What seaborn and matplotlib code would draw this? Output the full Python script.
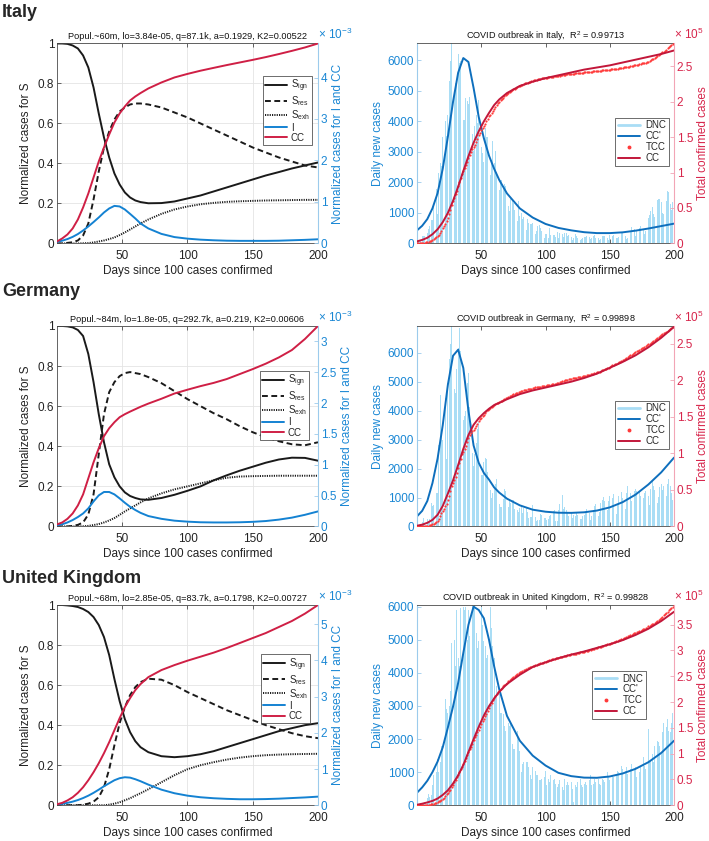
import numpy as np
import pandas as pd
import matplotlib
matplotlib.use('Agg')
import matplotlib.pyplot as plt
from matplotlib.lines import Line2D
from matplotlib.ticker import FuncFormatter, MultipleLocator
import seaborn as sns

sns.set_theme(style='white')
plt.rcParams['font.family'] = ['Liberation Sans', 'DejaVu Sans']
plt.rcParams['mathtext.fontset'] = 'custom'
plt.rcParams['mathtext.rm'] = 'Liberation Sans'
plt.rcParams['mathtext.it'] = 'Liberation Sans:italic'
plt.rcParams['mathtext.bf'] = 'Liberation Sans:bold'

# ---------------- data ----------------
COUNTRIES = ['Italy', 'Germany', 'United Kingdom']
LEFT_TITLES = ['Popul.~60m, lo=3.84e-05, q=87.1k, a=0.1929, K2=0.00522',
               'Popul.~84m, lo=1.8e-05, q=292.7k, a=0.219, K2=0.00606',
               'Popul.~68m, lo=2.85e-05, q=83.7k, a=0.1798, K2=0.00727']
R2_VALUES = ['0.99713', '0.99898', '0.99828']
X_TICKS = [50, 100, 150, 200]

GRID_DAYS = [0, 4, 8, 12, 16, 20, 24, 28, 32, 36, 40, 44, 48, 52, 56, 60, 64,
             70, 80, 90, 100, 110, 120, 130, 140, 150, 160, 170, 180, 190, 200]

# Italy, model (left panel). I and CC in units of 1e-3
IT_S_IGN = [1.0, 1.0, 0.998, 0.99, 0.975, 0.94, 0.88, 0.78, 0.65, 0.53, 0.43, 0.35, 0.295, 0.255, 0.23, 0.215, 0.207,
            0.201, 0.202, 0.21, 0.225, 0.24, 0.26, 0.28, 0.30, 0.32, 0.34, 0.357, 0.375, 0.39, 0.405]
IT_S_RES = [0.0, 0.0, 0.003, 0.006, 0.015, 0.04, 0.1, 0.22, 0.36, 0.48, 0.56, 0.62, 0.66, 0.68, 0.695, 0.70, 0.70,
            0.695, 0.68, 0.655, 0.63, 0.60, 0.57, 0.54, 0.51, 0.48, 0.455, 0.43, 0.41, 0.39, 0.38]
IT_S_EXH = [0.0, 0.0, 0.0, 0.0, 0.0, 0.001, 0.002, 0.005, 0.01, 0.015, 0.022, 0.03, 0.042, 0.055, 0.07, 0.085, 0.1,
            0.12, 0.148, 0.17, 0.185, 0.196, 0.203, 0.208, 0.211, 0.213, 0.215, 0.216, 0.217, 0.218, 0.218]
IT_I = [0.039, 0.067, 0.106, 0.159, 0.227, 0.313, 0.41, 0.516, 0.627, 0.747, 0.844, 0.906, 0.892, 0.819, 0.713, 0.603,
        0.482, 0.362, 0.231, 0.154, 0.116, 0.092, 0.077, 0.067, 0.063, 0.063, 0.063, 0.067, 0.077, 0.087, 0.101]
IT_CC = [0.048, 0.121, 0.217, 0.362, 0.578, 0.868, 1.205, 1.591, 1.976, 2.314, 2.627, 2.916, 3.133, 3.302, 3.446,
         3.543, 3.625, 3.736, 3.88, 4.001, 4.087, 4.164, 4.232, 4.299, 4.362, 4.425, 4.492, 4.565, 4.642, 4.724, 4.82]

# Germany
DE_S_IGN = [1.0, 1.0, 0.998, 0.993, 0.98, 0.95, 0.86, 0.72, 0.56, 0.42, 0.31, 0.245, 0.2, 0.17, 0.152, 0.142, 0.135,
            0.133, 0.142, 0.158, 0.178, 0.2, 0.23, 0.255, 0.278, 0.298, 0.318, 0.334, 0.343, 0.342, 0.328]
DE_S_RES = [0.0, 0.0, 0.0, 0.003, 0.008, 0.02, 0.06, 0.16, 0.36, 0.56, 0.67, 0.72, 0.75, 0.765, 0.77, 0.765, 0.76,
            0.745, 0.715, 0.675, 0.635, 0.60, 0.565, 0.535, 0.50, 0.47, 0.445, 0.425, 0.41, 0.405, 0.42]
DE_S_EXH = [0.0, 0.0, 0.0, 0.0, 0.0, 0.001, 0.003, 0.007, 0.012, 0.02, 0.03, 0.042, 0.058, 0.075, 0.09, 0.105, 0.12,
            0.14, 0.165, 0.185, 0.2, 0.215, 0.23, 0.243, 0.249, 0.251, 0.252, 0.253, 0.253, 0.253, 0.253]
DE_I = [0.02, 0.036, 0.065, 0.104, 0.153, 0.211, 0.293, 0.406, 0.504, 0.559, 0.559, 0.52, 0.455, 0.384, 0.319, 0.267,
        0.221, 0.169, 0.124, 0.094, 0.078, 0.068, 0.065, 0.065, 0.068, 0.075, 0.088, 0.111, 0.143, 0.189, 0.244]
DE_CC = [0.033, 0.065, 0.124, 0.211, 0.341, 0.52, 0.78, 1.04, 1.268, 1.463, 1.593, 1.69, 1.771, 1.82, 1.862, 1.901,
         1.94, 1.992, 2.07, 2.155, 2.217, 2.275, 2.327, 2.389, 2.47, 2.551, 2.639, 2.74, 2.86, 3.039, 3.25]

# United Kingdom
UK_S_IGN = [1.0, 1.0, 0.998, 0.995, 0.99, 0.98, 0.965, 0.94, 0.9, 0.84, 0.75, 0.63, 0.52, 0.43, 0.365, 0.32, 0.29,
            0.265, 0.245, 0.24, 0.245, 0.255, 0.27, 0.29, 0.31, 0.33, 0.35, 0.37, 0.385, 0.40, 0.41]
UK_S_RES = [0.0, 0.0, 0.0, 0.0, 0.0, 0.003, 0.008, 0.018, 0.04, 0.09, 0.18, 0.3, 0.41, 0.49, 0.55, 0.59, 0.615,
            0.632, 0.627, 0.6, 0.565, 0.535, 0.505, 0.475, 0.45, 0.425, 0.40, 0.38, 0.36, 0.345, 0.335]
UK_S_EXH = [0.0, 0.0, 0.0, 0.0, 0.0, 0.0, 0.0, 0.0, 0.0, 0.0, 0.003, 0.008, 0.015, 0.025, 0.035, 0.048, 0.06,
            0.08, 0.115, 0.15, 0.18, 0.2, 0.215, 0.228, 0.238, 0.245, 0.25, 0.253, 0.255, 0.256, 0.257]
UK_I = [0.022, 0.039, 0.066, 0.1, 0.144, 0.199, 0.265, 0.343, 0.431, 0.525, 0.608, 0.691, 0.747, 0.774, 0.763, 0.719,
        0.664, 0.57, 0.431, 0.332, 0.265, 0.221, 0.194, 0.177, 0.166, 0.166, 0.171, 0.182, 0.199, 0.216, 0.238]
UK_CC = [0.028, 0.066, 0.133, 0.221, 0.343, 0.498, 0.691, 0.912, 1.161, 1.438, 1.742, 2.074, 2.406, 2.71, 2.959,
         3.18, 3.346, 3.539, 3.733, 3.871, 3.993, 4.103, 4.214, 4.341, 4.479, 4.618, 4.756, 4.922, 5.088, 5.292, 5.53]

# Right panels: model CC' (daily) and CC (units of 1e5)
IT_CCP = [430, 580, 800, 1150, 1650, 2450, 3500, 4640, 5600, 6080, 5950, 5100, 4150, 3450, 2880, 2450, 2080,
          1640, 1150, 850, 640, 510, 430, 370, 340, 340, 365, 420, 490, 570, 650]
IT_CCFIT = [0.03, 0.05, 0.08, 0.13, 0.2, 0.3, 0.43, 0.6, 0.8, 1.02, 1.23, 1.42, 1.58, 1.72, 1.84, 1.95, 2.03,
            2.12, 2.22, 2.28, 2.33, 2.37, 2.41, 2.45, 2.48, 2.51, 2.55, 2.59, 2.63, 2.67, 2.72]
DE_CCP = [350, 540, 880, 1500, 2350, 3500, 4900, 5900, 6110, 5480, 4000, 2800, 2200, 1850, 1620, 1350, 1170,
          960, 730, 580, 510, 475, 470, 490, 550, 660, 840, 1100, 1450, 1870, 2380]
DE_CCFIT = [0.01, 0.025, 0.05, 0.09, 0.16, 0.28, 0.45, 0.63, 0.84, 1.06, 1.25, 1.39, 1.48, 1.55, 1.61, 1.66, 1.69,
            1.74, 1.81, 1.86, 1.9, 1.94, 1.98, 2.03, 2.09, 2.17, 2.25, 2.34, 2.45, 2.58, 2.73]
UK_CCP = [380, 540, 740, 1000, 1320, 1750, 2350, 2980, 3700, 4600, 5450, 6000, 5900, 5650, 5000, 4200, 3500,
          2700, 1950, 1500, 1200, 980, 880, 835, 830, 870, 960, 1100, 1300, 1580, 1950]
UK_CCFIT = [0.01, 0.03, 0.055, 0.085, 0.13, 0.2, 0.29, 0.42, 0.58, 0.78, 1.03, 1.28, 1.52, 1.74, 1.92, 2.07, 2.2,
            2.35, 2.53, 2.68, 2.77, 2.85, 2.92, 2.98, 3.05, 3.12, 3.2, 3.3, 3.42, 3.57, 3.75]

# Observed daily new cases (days 1..200) and confirmed cases at day 0
BAR_DAYS = list(range(1, 201))
IT_TCC0, DE_TCC0, UK_TCC0 = 152, 130, 115
IT_DNC = [93, 93, 78, 250, 238, 240,
          566, 342, 466, 587, 769, 778, 1247, 1492, 1797, 977,
          2313, 2651, 2547, 3497, 2823, 4000, 3526, 4207, 5322, 5986,
          6557, 5560, 4789, 5249, 5210, 6203, 5909, 5974, 5217, 4050, 4053,
          4782, 4668, 4585, 4805, 4316, 3599, 3039, 3836, 4204, 3951,
          4694, 4092, 3153, 2972, 2667, 3786, 3493, 3491, 3047, 2256,
          2729, 3370, 2646, 3021, 2357, 2324, 1739, 2091, 2086, 1872,
          1965, 1900, 1389, 1221, 1075, 1444, 1401, 1327, 1083, 802,
          744, 1402, 888, 992, 789, 875, 675, 451, 813, 665,
          642, 652, 669, 531, 300, 397, 584, 593, 516, 416, 355,
          178, 318, 321, 177, 518, 270, 197, 280, 283, 202,
          379, 163, 346, 338, 301, 210, 329, 333, 251, 262,
          224, 218, 122, 190, 296, 259, 175, 174, 126, 142,
          187, 201, 223, 235, 192, 208, 138, 193, 229, 276,
          188, 234, 169, 114, 162, 230, 233, 249, 219, 190,
          129, 282, 306, 252, 275, 255, 170, 181, 212, 289, 386,
          379, 295, 239, 159, 190, 384, 402, 552, 347, 463,
          259, 412, 481, 523, 574, 629, 479, 320, 403, 642,
          845, 947, 1071, 1210, 953, 878, 1367, 1409, 1460, 1444, 1365,
          996, 978, 1326, 1397, 1733, 1695, 1297, 1108, 1370, 1434]
DE_DNC = [29, 38, 66, 138, 281, 113, 63, 250, 170, 271,
          800, 700, 730, 1040, 1170, 1150, 2800, 4530, 3300, 3000,
          3300, 4440, 2340, 4950, 5780, 6290, 6930, 4000, 4750, 4620,
          5450, 6160, 6870, 6080, 5940, 3680, 3830, 4000, 4970, 5320,
          4130, 2820, 2540, 2080, 2490, 2870, 3380, 3610, 2460, 1780,
          1790, 2240, 2350, 2340, 1870, 1510, 1260, 990, 1150, 1300,
          1480, 1640, 950, 790, 680, 690, 950, 1280, 1210, 1250,
          670, 930, 800, 930, 910, 620, 1250, 580, 510, 630,
          750, 460, 640, 430, 670, 500, 280, 320, 340, 740,
          480, 320, 200, 230, 220, 440, 380, 480, 300, 280,
          210, 250, 350, 410, 300, 550, 560, 190, 190, 580,
          770, 350, 1080, 600, 690, 580, 500, 370, 450, 500,
          300, 400, 350, 490, 390, 270, 270, 250, 350, 400,
          500, 600, 580, 450, 240, 360, 580, 700, 790, 650,
          350, 500, 810, 900, 1020, 870, 380, 560, 870, 1050,
          900, 980, 1130, 750, 430, 760, 1070, 1190, 1200, 980,
          450, 590, 1140, 1390, 1640, 1150, 890, 570, 1230, 1310,
          1230, 1310, 1180, 1070, 570, 980, 1150, 1230, 1340, 1070,
          740, 1310, 1560, 1390, 1270, 1150, 820, 1020, 1350, 1480,
          1270, 1390, 1020, 1070, 1480, 1640, 1390, 1150, 900, 1560]
UK_DNC = [50, 45, 65, 50, 55, 85, 135, 210, 340, 250,
          300, 600, 900, 900, 1000, 1400, 1000, 1300, 1800, 1800,
          2450, 3200, 2900, 2800, 3000, 3450, 4900, 4750, 5000, 4200,
          5900, 4450, 4200, 5950, 5000, 6000, 5900, 6000, 5000, 5900,
          5100, 5150, 6050, 6000, 6050, 5200, 4750, 4950, 5100, 6000,
          5450, 4950, 4800, 4450, 4550, 5800, 6000, 5350, 4800, 4450,
          3200, 3600, 3650, 3350, 2800, 2800, 2750, 2400, 2250, 2400,
          2500, 2400, 2500, 1850, 1700, 1700, 1850, 2250, 2000, 1650,
          1000, 1250, 1300, 1550, 1300, 1300, 1150, 900, 800, 1150,
          1000, 1050, 900, 900, 750, 750, 800, 900, 850, 1050,
          600, 800, 700, 900, 1000, 750, 800, 650, 550, 650,
          750, 650, 550, 450, 800, 600, 700, 600, 520, 700,
          500, 100, 600, 550, 700, 620, 800, 600, 550, 650,
          700, 600, 550, 750, 900, 600, 650, 800, 700, 1240,
          800, 650, 600, 800, 750, 700, 900, 1000, 850, 750,
          1100, 900, 850, 800, 950, 1050, 1000, 900, 1200, 1100,
          900, 1050, 1150, 950, 1000, 1100, 1250, 1350, 1100, 1150,
          850, 900, 1000, 1200, 1300, 1450, 1200, 1100, 1300, 2300,
          1300, 1350, 1550, 1300, 1800, 2100, 1950, 1900, 1800, 1550,
          2200, 2500, 2400, 2350, 2600, 2250, 2200, 2500, 2800, 3000]

# ---------------- style ----------------
BLUE_I = '#1482d2'
RED_CC = '#cf1f45'
BLUE_CCP = '#0e6fbd'
BAR_C = '#a9ddf5'
TCC_RED = '#ff3a3a'
CC_DARK = '#c2173a'
AX_BLUE = '#1a87d4'
AX_RED = '#d7264c'
SPINE_BLUE = '#9ccbec'
SPINE_RED = '#f2a5b6'
SPINE_DARK = '#4a4a4a'
FS = 8.5

fig = plt.figure(figsize=(7.09, 8.41), dpi=100)
ROWS = [(0.7105, 0.2378), (0.374, 0.2384), (0.0425, 0.2381)]
LX, LW = 0.0804, 0.3681
RX, RW = 0.5882, 0.3625
ROW_LABEL_Y = [0.9857, 0.6528, 0.3127]
LEFT_LEG = [(0.977, 0.8375), (0.9655, 0.7756), (0.969, 0.7537)]
RIGHT_LEG = [(0.9805, 0.6275), (0.9805, 0.626), (0.891, 0.67)]
RIGHT_STEP = [1.0, 0.5, 1.0]

gfmt = FuncFormatter(lambda v, p: f'{v:g}')

left_data = [(IT_S_IGN, IT_S_RES, IT_S_EXH, IT_I, IT_CC),
             (DE_S_IGN, DE_S_RES, DE_S_EXH, DE_I, DE_CC),
             (UK_S_IGN, UK_S_RES, UK_S_EXH, UK_I, UK_CC)]
right_data = [(IT_DNC, IT_TCC0, IT_CCP, IT_CCFIT),
              (DE_DNC, DE_TCC0, DE_CCP, DE_CCFIT),
              (UK_DNC, UK_TCC0, UK_CCP, UK_CCFIT)]


def base_style(ax):
    ax.set_xlim(0, 200)
    ax.set_xticks(X_TICKS)
    ax.xaxis.set_major_formatter(gfmt)
    ax.tick_params(axis='both', direction='in', length=3, width=0.6, labelsize=FS, pad=2,
                   top=True, bottom=True, colors=SPINE_DARK, labelcolor='#222222')
    ax.tick_params(axis='x', pad=4.5)
    for s in ax.spines.values():
        s.set_linewidth(0.6)
        s.set_color(SPINE_DARK)
    ax.set_xlabel('Days since 100 cases confirmed', fontsize=FS, labelpad=2.5, color='#222222')


for r in range(3):
    by, bh = ROWS[r]
    fig.text(0.003, ROW_LABEL_Y[r], COUNTRIES[r], fontsize=13, fontweight='bold', va='center', ha='left')

    # ---------- left panel ----------
    s_ign, s_res, s_exh, i_v, cc_v = left_data[r]
    ax = fig.add_axes([LX, by, LW, bh])
    ax2 = ax.twinx()
    ax.grid(True, color='#e4e4e4', lw=0.6)
    ax.set_axisbelow(True)
    sns.lineplot(x=GRID_DAYS, y=s_ign, ax=ax, color='k', linewidth=1.4, legend=False)
    sns.lineplot(x=GRID_DAYS, y=s_res, ax=ax, color='k', linewidth=1.4, linestyle=(0, (3.0, 1.8)), legend=False)
    sns.lineplot(x=GRID_DAYS, y=s_exh, ax=ax, color='k', linewidth=1.4, linestyle=(0, (0.6, 0.6)), legend=False)
    sns.lineplot(x=GRID_DAYS, y=i_v, ax=ax2, color=BLUE_I, linewidth=1.4, legend=False)
    sns.lineplot(x=GRID_DAYS, y=cc_v, ax=ax2, color=RED_CC, linewidth=1.4, legend=False)
    base_style(ax)
    ax.set_ylim(0, 1)
    ax.set_yticks([0, 0.2, 0.4, 0.6, 0.8, 1])
    ax.yaxis.set_major_formatter(gfmt)
    ax.tick_params(axis='y', right=False)
    ax.set_ylabel('Normalized cases for S', fontsize=FS, labelpad=4, color='#222222')
    ax.spines['right'].set_visible(False)
    ax2.set_ylim(0, max(cc_v))
    ax2.set_xlim(0, 200)
    ax2.yaxis.set_major_locator(MultipleLocator(RIGHT_STEP[r]))
    ax2.yaxis.set_major_formatter(gfmt)
    ax2.tick_params(axis='y', direction='in', length=3, width=0.6, labelsize=FS, pad=2,
                    colors=SPINE_BLUE, labelcolor=AX_BLUE)
    for k in ['left', 'top', 'bottom']:
        ax2.spines[k].set_visible(False)
    ax2.spines['right'].set_color(SPINE_BLUE)
    ax2.spines['right'].set_linewidth(0.8)
    ax2.set_ylabel('Normalized cases for I and CC', fontsize=FS, color=AX_BLUE, labelpad=3)
    ax2.text(1.0, 1.006, '× 10$^{-3}$', transform=ax2.transAxes, ha='left', va='bottom',
             color=AX_BLUE, fontsize=FS)
    ax.set_title(LEFT_TITLES[r], fontsize=6.6, pad=3, color='#111111')
    handles = [Line2D([], [], color='k', lw=1.4),
               Line2D([], [], color='k', lw=1.4, ls=(0, (3.0, 1.8))),
               Line2D([], [], color='k', lw=1.4, ls=(0, (0.6, 0.6))),
               Line2D([], [], color=BLUE_I, lw=1.4),
               Line2D([], [], color=RED_CC, lw=1.4)]
    labels = [r'S$_{\rm ign}$', r'S$_{\rm res}$', r'S$_{\rm exh}$', 'I', 'CC']
    leg = ax2.legend(handles, labels, loc='upper right', bbox_to_anchor=LEFT_LEG[r], fontsize=7,
                     frameon=True, fancybox=False, edgecolor='#333333', framealpha=1,
                     borderpad=0.2, labelspacing=0.02, handlelength=2.3, handletextpad=0.4,
                     borderaxespad=0)
    leg.get_frame().set_linewidth(0.5)

    # ---------- right panel ----------
    dnc, tcc0, ccp, ccfit = right_data[r]
    dnc_arr = np.array(dnc, dtype=float)
    tcc = np.concatenate([[tcc0], tcc0 + np.cumsum(dnc_arr)]) / 1e5
    tcc_days = list(range(0, 201))
    bx = fig.add_axes([RX, by, RW, bh])
    bx2 = bx.twinx()
    sns.histplot(x=BAR_DAYS, weights=dnc, discrete=True, shrink=0.65, color=BAR_C, alpha=1.0,
                 linewidth=0, ax=bx)
    sns.lineplot(x=GRID_DAYS, y=ccp, ax=bx, color=BLUE_CCP, linewidth=1.4, legend=False)
    sns.scatterplot(x=tcc_days, y=tcc, ax=bx2, color=TCC_RED, s=2.5, marker='o', linewidth=0, legend=False)
    sns.lineplot(x=GRID_DAYS, y=ccfit, ax=bx2, color=CC_DARK, linewidth=1.4, legend=False)
    base_style(bx)
    bx.set_ylim(0, max(max(dnc), max(ccp)))
    bx.yaxis.set_major_locator(MultipleLocator(1000))
    bx.yaxis.set_major_formatter(gfmt)
    bx.tick_params(axis='y', right=False, colors=SPINE_BLUE, labelcolor=AX_BLUE)
    bx.spines['left'].set_color(SPINE_BLUE)
    bx.spines['left'].set_linewidth(0.8)
    bx.spines['right'].set_visible(False)
    bx.set_ylabel('Daily new cases', fontsize=FS, color=AX_BLUE, labelpad=3)
    bx2.set_xlim(0, 200)
    bx2.set_ylim(0, max(tcc.max(), max(ccfit)))
    bx2.yaxis.set_major_locator(MultipleLocator(0.5))
    bx2.yaxis.set_major_formatter(gfmt)
    bx2.tick_params(axis='y', direction='in', length=3, width=0.6, labelsize=FS, pad=2,
                    colors=SPINE_RED, labelcolor=AX_RED)
    for k in ['left', 'top', 'bottom']:
        bx2.spines[k].set_visible(False)
    bx2.spines['right'].set_color(SPINE_RED)
    bx2.spines['right'].set_linewidth(0.8)
    bx2.set_ylabel('Total confirmed cases', fontsize=FS, color=AX_RED, labelpad=3)
    bx2.text(1.0, 1.006, '× 10$^{5}$', transform=bx2.transAxes, ha='left', va='bottom',
             color=AX_RED, fontsize=FS)
    bx.set_title(f'COVID outbreak in {COUNTRIES[r]},  R$^2$ = {R2_VALUES[r]}', fontsize=6.6, pad=3,
                 color='#111111')
    rh = [Line2D([], [], color=BAR_C, lw=2.0),
          Line2D([], [], color=BLUE_CCP, lw=1.4),
          Line2D([], [], color=TCC_RED, lw=0, marker='o', markersize=1.8),
          Line2D([], [], color=CC_DARK, lw=1.4)]
    rl = ['DNC', "CC'", 'TCC', 'CC']
    leg2 = bx2.legend(rh, rl, loc='upper right', bbox_to_anchor=RIGHT_LEG[r], fontsize=7,
                      frameon=True, fancybox=False, edgecolor='#333333', framealpha=1,
                      borderpad=0.25, labelspacing=0.1, handlelength=2.3, handletextpad=0.6,
                      borderaxespad=0)
    leg2.get_frame().set_linewidth(0.5)

fig.savefig('out.png', dpi=100)
